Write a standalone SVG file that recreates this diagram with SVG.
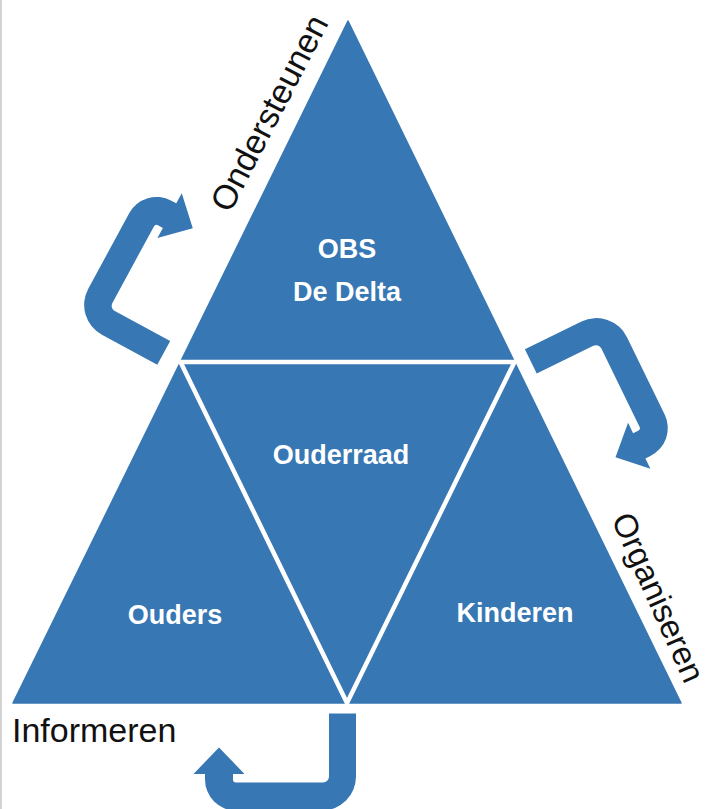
<svg xmlns="http://www.w3.org/2000/svg" xmlns:xlink="http://www.w3.org/1999/xlink" width="706" height="809" viewBox="0 0 706 809">
  <style>
    .tri { fill: #3777b3; }
    .lbl { font-family: "Liberation Sans", Arial, sans-serif; font-weight: bold; font-size: 27px; fill: #ffffff; text-anchor: middle; }
    .side { font-family: "Liberation Sans", Arial, sans-serif; font-size: 34px; fill: #111111; }
    .arrow { fill: #3777b3; }
  </style>
  <defs>
    <path id="uturn" d="M65 90 L2 90 A6 6 0 0 1 -4 84 L-4 -3 A3 3 0 0 1 -1 -6 L4.6 -6 L4.6 5.5 L31 -20 L4.6 -45.5 L4.6 -34 L-1 -34 A31 31 0 0 0 -32 -3 L-32 83 A34 34 0 0 0 2 117 L65 117 Z"/>
  </defs>
  <rect width="706" height="809" fill="#ffffff"/>
  <rect x="0" y="0" width="2" height="809" fill="#d3d3d3"/>

  <g id="triangles">
    <polygon class="tri" points="348,21 13,703 681,703" stroke="#3777b3" stroke-width="1.5" stroke-linejoin="round"/>
    <polygon points="180.5,362 514.5,362 347,703" fill="none" stroke="#ffffff" stroke-width="4.5" stroke-linejoin="round"/>
  </g>

  <g id="node-obs">
    <text class="lbl" x="347" y="258">OBS</text>
    <text class="lbl" x="347" y="301">De Delta</text>
  </g>
  <g id="node-ouderraad">
    <text class="lbl" x="341" y="464">Ouderraad</text>
  </g>
  <g id="node-ouders">
    <text class="lbl" x="175" y="624">Ouders</text>
  </g>
  <g id="node-kinderen">
    <text class="lbl" x="515" y="622">Kinderen</text>
  </g>

  <g id="connectors">
    <use href="#uturn" class="arrow" transform="translate(156,231) rotate(28.5)"/>
    <use href="#uturn" class="arrow" transform="translate(634.6,425.8) rotate(154)"/>
    <use href="#uturn" class="arrow" transform="translate(239,778.5) rotate(-90)"/>
  </g>

  <g id="labels">
    <text class="side" transform="translate(230,214) rotate(-62.6)">Ondersteunen</text>
    <text class="side" style="font-size:33px" transform="translate(611,519) rotate(66)">Organiseren</text>
    <text class="side" x="12" y="742">Informeren</text>
  </g>
</svg>
